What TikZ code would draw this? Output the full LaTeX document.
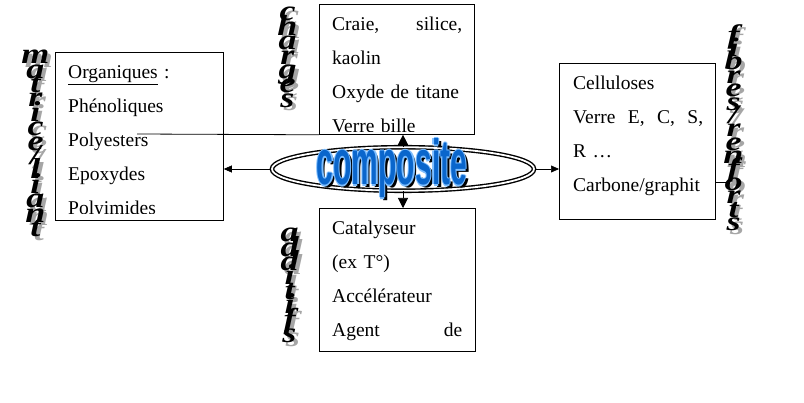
\documentclass[tikz,border=0pt]{standalone}
\usepackage{fontspec}
\setmainfont{Liberation Serif}
\newfontfamily\compfont{Liberation Sans}
\usetikzlibrary{arrows.meta,positioning,shapes.geometric}

\definecolor{tagshade}{HTML}{A6A6A6}
\definecolor{compblue}{HTML}{0A66CC}
\definecolor{compglow}{HTML}{7DBEFF}
\newcommand{\boxfont}{\fontsize{19.5}{34}\selectfont}
\newcommand{\tagfont}{\fontsize{36}{18}\selectfont\bfseries\itshape\lineskiplimit=-100pt}
\newcommand{\compositefont}{\compfont\bfseries\fontsize{50}{50}\selectfont}

\begin{document}
\begin{tikzpicture}[
  x=1pt, y=-1pt,
  box/.style={draw,line width=0.8pt,inner sep=0pt,anchor=north west},
  boxtext/.style={anchor=north west,inner sep=0pt,text width=132pt,
    align=left,font=\boxfont},
  tag/.style={inner sep=0pt,align=center,font=\tagfont,yscale=0.8},
  tagshadow/.style={tag,text=tagshade},
  comp/.style={inner sep=0pt,anchor=base,font=\compositefont,
    xscale=0.6,yscale=1.27},
  arr/.style={-{Triangle[length=8pt,width=7pt]},line width=0.6pt},
  varr/.style={-{Triangle[length=10pt,width=10pt]},line width=0.6pt}
]
  \fill[white] (0,0) rectangle (804,403);
  \useasboundingbox (0,0) rectangle (804,403);

  % Boxes
  \node[box,minimum width=168pt,minimum height=168pt] (matrice) at (55,52) {};
  \node[box,minimum width=155pt,minimum height=130pt] (charges) at (319,4) {};
  \node[box,minimum width=156pt,minimum height=143pt] (additifs) at (319,208) {};
  \node[box,minimum width=156pt,minimum height=156pt] (fibres) at (559,63) {};

  % Box contents, cut off above the bottom edge
  \begin{scope}
    \clip (matrice.north west) rectangle ([yshift=7pt]matrice.south east);
    \node[boxtext,xshift=13pt] (matrice-text) at (matrice.north west)
      {\rule{0pt}{26pt}\underline{Organiques} :\\Phénoliques\\Polyesters\\Epoxydes\\Polyimides};
  \end{scope}
  \begin{scope}
    \clip (charges.north west) rectangle ([yshift=3pt]charges.south east);
    \node[boxtext,xshift=13pt] (charges-text) at (charges.north west)
      {\rule{0pt}{26pt}\makebox[130pt][l]{Craie,\hfill silice,}\\kaolin\\Oxyde de titane\\Verre bille};
  \end{scope}
  \begin{scope}
    \clip (additifs.north west) rectangle (additifs.south east);
    \node[boxtext,xshift=13pt] (additifs-text) at (additifs.north west)
      {\rule{0pt}{26pt}Catalyseur\\(ex T°)\\Accélérateur\\\makebox[130pt][l]{Agent\hfill de}};
  \end{scope}
  \begin{scope}
    \clip (fibres.north west) rectangle (fibres.south east);
    \node[boxtext,xshift=14pt] (fibres-text) at (fibres.north west)
      {\rule{0pt}{26pt}Celluloses\\\makebox[130pt][l]{Verre\hfill E,\hfill C,\hfill S,}\\R …\\Carbone/graphit};
  \end{scope}

  % Centre
  \node[ellipse,draw,line width=1.4pt,double=white,double distance=1.8pt,
    minimum width=262pt,minimum height=43.5pt,inner sep=0pt] (core) at (403,169) {};
  \node[comp,text=black] (comp-shadow) at (395,188) {composite};
  \foreach \dx/\dy [count=\i] in {-1.2/0,1.2/0,0/-1.2,0/1.2}
    \node[comp,text=compglow] (comp-glow-\i) at (392+\dx,185+\dy) {composite};
  \node[comp,text=compblue] (comp-text) at (392,185) {composite};

  % Arrows
  \draw[arr] (core.west) -- (core.west -| matrice.east);
  \draw[arr] (core.east) -- (core.east -| fibres.west);
  \draw[varr] (core.north) -- (core.north |- charges.south);
  \draw[varr] (core.south) -- (core.south |- additifs.north);

  % Loose lines
  \coordinate (matrice-tap) at (137,134);
  \draw[line width=0.8pt] (matrice-tap) -- (charges.south west);
  \coordinate (fibres-tap) at (727,182);
  \draw[line width=0.8pt] (fibres.east |- fibres-tap) -- (fibres-tap);

  % Side labels
  \node[tagshadow] (matrice-shadow) at (39,147) {m\\a\\t\\r\\i\\c\\e\\/\\l\\i\\a\\n\\t};
  \node[tag] (matrice-tag) at (35.5,143.5) {m\\a\\t\\r\\i\\c\\e\\/\\l\\i\\a\\n\\t};
  \node[tagshadow] (charges-shadow) at (291,61) {c\\h\\a\\r\\g\\e\\s};
  \node[tag] (charges-tag) at (287.5,57.5) {c\\h\\a\\r\\g\\e\\s};
  \node[tagshadow] (additifs-shadow) at (293,289) {a\\d\\d\\i\\t\\i\\f\\s};
  \node[tag] (additifs-tag) at (289.5,285.5) {a\\d\\d\\i\\t\\i\\f\\s};
  \node[tagshadow,yscale=0.93] (fibres-shadow) at (737,131) {f\\i\\b\\r\\e\\s\\/\\r\\e\\n\\f\\o\\r\\t\\s};
  \node[tag,yscale=0.93] (fibres-tag) at (733.5,127.5) {f\\i\\b\\r\\e\\s\\/\\r\\e\\n\\f\\o\\r\\t\\s};
\end{tikzpicture}
\end{document}
